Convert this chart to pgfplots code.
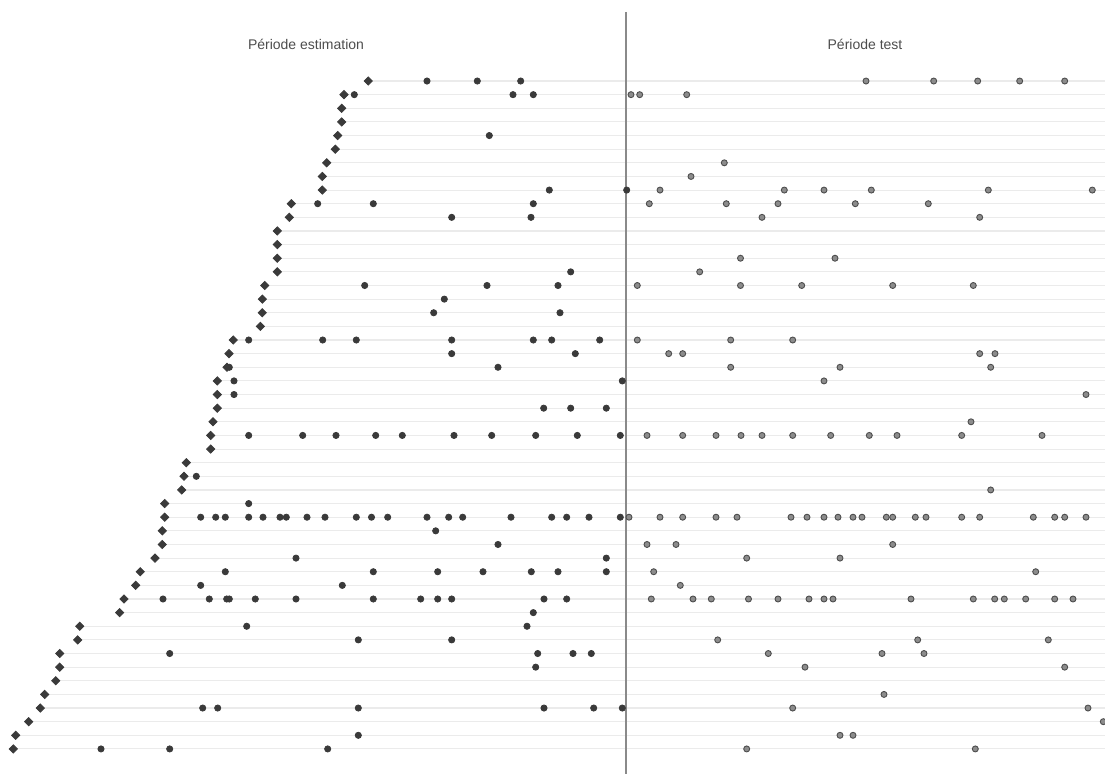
\documentclass[border=0pt]{standalone}
\usepackage{pgfplots}
\pgfplotsset{compat=1.18}
\usepackage{pgfplotstable}
\usepackage{fontspec}
\setmainfont{Liberation Sans}
\definecolor{gridc}{HTML}{EBEBEB}
\definecolor{vline}{HTML}{8A8A8A}
\definecolor{darkpt}{HTML}{3A3A3A}
\definecolor{testfill}{HTML}{8C8C8C}
\definecolor{testedge}{HTML}{4D4D4D}
\definecolor{titlec}{HTML}{4D4D4D}

% first date (diamond) of each row
\pgfplotstableread{
row x
0 368.3
1 344
2 341.7
3 341.7
4 337.7
5 335.3
6 326.7
7 322.3
8 322.3
9 291.3
10 289.3
11 277.3
12 277.3
13 277.3
14 277.3
15 264.7
16 262.3
17 262.3
18 260.3
19 233.3
20 229
21 227
22 217.3
23 217.3
24 217.3
25 213
26 210.7
27 210.7
28 186.3
29 184
30 181.7
31 164.7
32 164.7
33 162.3
34 162.3
35 155
36 140.3
37 135.7
38 124
39 119.7
40 79.7
41 77.7
42 59.7
43 59.7
44 55.7
45 44.7
46 40.3
47 28.7
48 15.7
49 13.3
}\starts

% events in estimation period
\pgfplotstableread{
row x
0 427
0 477.3
0 520.7
1 354.3
1 513
1 533.3
4 489.3
8 549.3
8 626.7
9 317.7
9 373.3
9 533.3
10 451.7
10 531
14 570.7
15 364.7
15 487
15 558
16 444.3
17 433.7
17 560
19 248.7
19 322.7
19 356.3
19 451.7
19 533.3
19 551.7
19 599.7
20 451.7
20 575.3
21 229.3
21 498
22 234
22 622.3
23 234
24 543.7
24 570.7
24 606.3
26 248.7
26 302.7
26 336
26 375.7
26 402.3
26 454
26 491.7
26 535.7
26 577.3
26 620.3
29 196.3
31 248.7
32 200.7
32 215.7
32 225.3
32 248.7
32 263
32 280
32 286.3
32 307
32 325
32 356.3
32 371.5
32 387.7
32 427
32 448.7
32 462.7
32 511
32 551.7
32 566.7
32 589
32 620.3
33 435.7
34 498
35 296
35 606.3
36 225.3
36 373.3
36 437.7
36 483
36 531.3
36 558
36 606.3
37 200.7
37 342.3
38 163
38 209.3
38 226.7
38 229.3
38 255.3
38 296
38 373.3
38 420.7
38 437.7
38 451.7
38 544
38 566.7
39 533.3
40 246.7
40 527
41 358.3
41 451.7
42 169.7
42 537.7
42 573
42 591.3
43 535.7
46 202.7
46 217.7
46 358.3
46 544
46 593.7
46 622.3
48 358.3
49 101
49 169.7
49 327.7
}\estim

% events in test period
\pgfplotstableread{
row x
0 866
0 933.7
0 977.7
0 1019.7
0 1064.7
1 631
1 639.7
1 686.7
6 724.3
7 691
8 660
8 784.3
8 824
8 871.3
8 988.3
8 1092.3
9 649.3
9 726.3
9 778
9 855.3
9 928.3
10 762
10 979.7
13 740.5
13 835
14 699.7
15 637.3
15 740.5
15 801.7
15 892.7
15 973.3
19 637.3
19 730.7
19 792.7
20 668.7
20 682.7
20 979.7
20 995
21 730.7
21 840
21 990.7
22 824
23 1086
25 971
26 647
26 682.7
26 716
26 741
26 762
26 792.7
26 830.7
26 869.3
26 897
26 961.7
26 1042
30 990.7
32 629
32 660
32 682.7
32 716
32 737
32 791
32 807
32 824
32 838
32 853
32 862
32 886.3
32 892.7
32 915.3
32 926
32 961.7
32 979.7
32 1033.3
32 1054.7
32 1064.7
32 1086
34 647
34 676
34 892.7
35 746.7
35 840
36 653.7
36 1035.7
37 680.3
38 651.3
38 693
38 711.3
38 748.5
38 778
38 809
38 824
38 833
38 911
38 973.3
38 994.7
38 1004.3
38 1025.7
38 1054.7
38 1073
41 717.7
41 917.7
41 1048.3
42 768.3
42 882
42 924
43 805
43 1064.7
45 884
46 792.7
46 1088
47 1103.3
48 840
48 853
49 746.7
49 975.3
}\testp

\begin{document}
\begin{tikzpicture}
\begin{axis}[
  scale only axis,
  width=552.5pt, height=387pt,
  xmin=0, xmax=1105,
  ymin=-5.944, ymax=50.84,
  y dir=reverse,
  hide axis,
  clip=false,
]
% row guide lines, from the first date to the right edge
\addplot[draw=none, mark=none,
  error bars/.cd, x dir=plus, x explicit, error mark=none,
  error bar style={color=gridc, line width=0.55pt}]
  table[x=x, y=row, x error expr={1105-\thisrow{x}}] {\starts};
% separation between periods
\addplot[color=vline, line width=0.8pt, mark=none] coordinates {(626,-5.07) (626,50.84)};
% points
\addplot[only marks, mark=*, mark size=1.55pt, color=darkpt, mark options={fill=darkpt, draw=darkpt}] table[x=x, y=row] {\estim};
\addplot[only marks, mark=*, mark size=1.5pt, mark options={fill=testfill, draw=testedge, line width=0.45pt}] table[x=x, y=row] {\testp};
\addplot[only marks, mark=square*, mark size=1.45pt, color=darkpt, mark options={fill=darkpt, draw=darkpt, rotate=45}] table[x=x, y=row] {\starts};
% period titles
\node[font=\fontsize{7}{8}\selectfont, text=titlec] at (axis cs:306,-2.7) {Période estimation};
\node[font=\fontsize{7}{8}\selectfont, text=titlec] at (axis cs:865,-2.7) {Période test};
\end{axis}
\pgfresetboundingbox
\path (current axis.south west) rectangle (current axis.north east);
\end{tikzpicture}
\end{document}
